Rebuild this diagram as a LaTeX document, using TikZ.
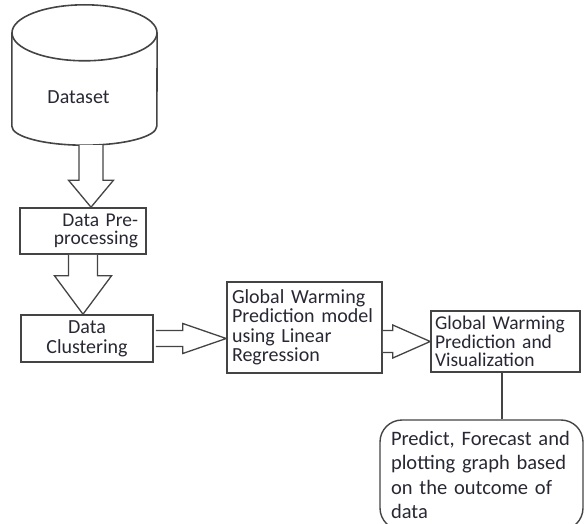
\documentclass[tikz,border=0pt]{standalone}
\usepackage{fontspec}
\setmainfont{Carlito}
\usetikzlibrary{calc}

\definecolor{cLine}{RGB}{68,68,68}
\definecolor{cText}{RGB}{40,40,52}

\tikzset{
  flowbox/.style={draw=cLine, line width=1.6pt, rectangle, inner ysep=0pt,
    text=cText, font=\fontsize{20}{19.5}\selectfont},
  blockarrow/.style={draw=cLine, line width=1.3pt, fill=white, line join=miter},
  wire/.style={draw=cLine, line width=1.6pt},
}

\begin{document}
\begin{tikzpicture}[x=1pt, y=-1pt]

    % --- Page frame ---
    \useasboundingbox (0,0) rectangle (584,524);
    \clip (0,0) rectangle (584,524);

    % --- Data store (cylinder) ---
    \node[minimum width=145pt, minimum height=140pt, inner sep=0pt] (data) at (84.5,75) {};
    \draw[wire] ($(data.north)+(0,28)$) ellipse [x radius=72.5pt, y radius=28pt];
    \draw[wire] ($(data.north west)+(0,28)$) -- ($(data.south west)+(0,-19)$)
        arc[start angle=180, end angle=360, x radius=72.5pt, y radius=19pt]
        -- ($(data.north east)+(0,28)$);
    \node[text=cText, font=\fontsize{20}{20}\selectfont] (dataText) at ($(data.center)+(-6,22)$) {Dataset};

    % --- Processing steps ---
    \node[flowbox, minimum width=126pt, minimum height=46pt, text width=110pt, inner xsep=8pt,
          align=right, font=\fontsize{19.5}{18.5}\selectfont] (pre) at (83,231) {Data Pre-\\processing};
    \node[flowbox, minimum width=132pt, minimum height=47pt, align=center,
          font=\fontsize{20}{20}\selectfont] (clu) at (87,338.5) {Data\\Clustering};
    \node[flowbox, minimum width=155pt, minimum height=91pt, text width=145pt, inner xsep=5pt,
          align=left] (model) at (304.5,327.5) {Global Warming\\Prediction model\\using Linear\\Regression};
    \node[flowbox, minimum width=149pt, minimum height=61pt, text width=141pt, inner xsep=4pt,
          align=left, font=\fontsize{19.5}{18.5}\selectfont] (viz) at (505.5,341.5) {Global Warming\\Prediction and\\Visualization};
    \node[flowbox, line width=1.4pt, rounded corners=22pt, minimum width=203pt, minimum height=110pt,
          text width=181pt, inner xsep=11pt, align=left, font=\fontsize{20.5}{24.5}\selectfont]
          (out) at (481.5,475) {Predict, Forecast and\\plotting graph based\\on the outcome of\\data};

    % --- Block arrows ---
    % dataset -> pre-processing
    \coordinate (a1) at ($(data.south)+(6.5,0)$);
    \draw[blockarrow] ($(a1)+(-12,0)$) -- ++(0,35) -- ++(-10.5,0) -- (a1 |- pre.north)
        -- ($(a1)+(22.5,35)$) -- ++(-10.5,0) -- ++(0,-35);

    % pre-processing -> clustering
    \coordinate (a2) at (pre.south);
    \draw[blockarrow] ($(a2)+(-14.5,0)$) -- ++(0,21) -- ++(-14,0) -- (a2 |- clu.north)
        -- ($(a2)+(28.5,21)$) -- ++(-14,0) -- ++(0,-21);

    % clustering -> model
    \coordinate (a3) at ($(clu.east)+(2,0)$);
    \draw[blockarrow] ($(a3)+(0,-8)$) -- ++(27,0) -- ++(0,-7) -- (a3 -| model.west)
        -- ($(a3)+(27,15)$) -- ++(0,-7) -- ++(-27,0);

    % model -> visualization
    \coordinate (a4) at (model.east |- viz.west);
    \draw[blockarrow] ($(a4)+(0,-11)$) -- ++(10,0) -- ++(0,-5.5) -- (viz.west)
        -- ($(a4)+(10,16.5)$) -- ++(0,-5.5) -- ++(-10,0);

    % --- Output ---
    \coordinate (drop) at ($(viz.south)+(-3.5,0)$);
    \draw[wire] (drop) -- (drop |- out.north);

\end{tikzpicture}
\end{document}
